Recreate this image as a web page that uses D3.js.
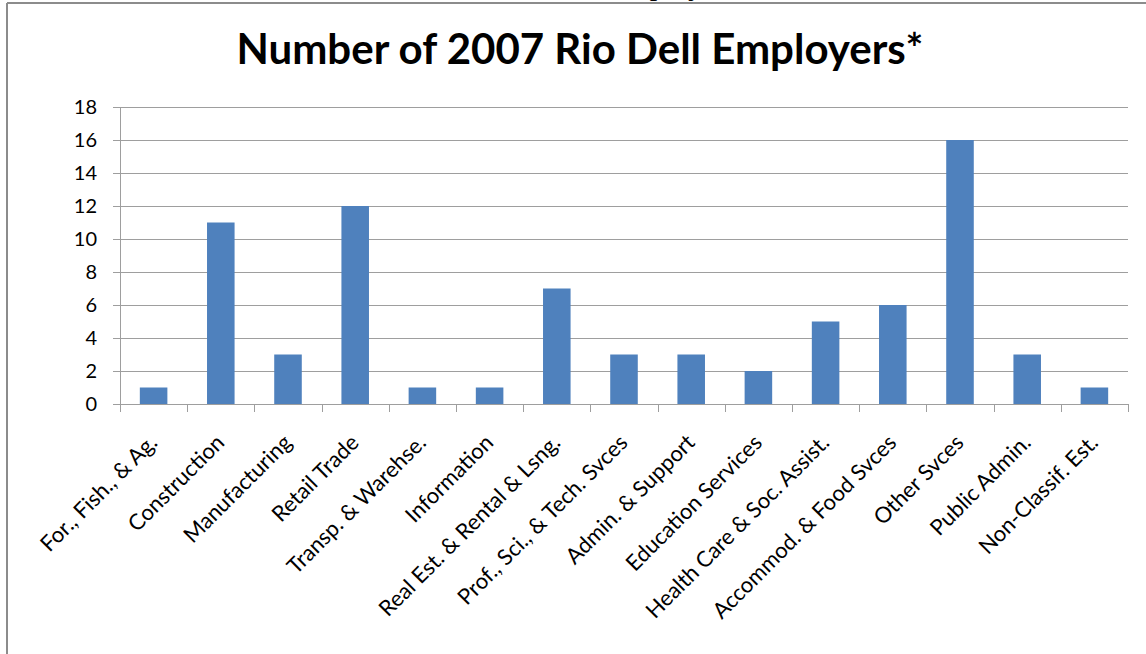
<!DOCTYPE html>
<html>
<head>
<meta charset="utf-8">
<script src="https://cdn.jsdelivr.net/npm/d3@7"></script>
<style>
  body { margin:0; background:#fff; }
  text { font-family: Lato, "Open Sans", sans-serif; fill:#000; }
</style>
</head>
<body>
<div id="chart"></div>
<script>
// values
const categories = ["For., Fish., & Ag.", "Construction", "Manufacturing", "Retail Trade",
  "Transp. & Warehse.", "Information", "Real Est. & Rental & Lsng.", "Prof., Sci., & Tech. Svces",
  "Admin. & Support", "Education Services", "Health Care & Soc. Assist.", "Accommod. & Food Svces",
  "Other Svces", "Public Admin.", "Non-Classif. Est."];
const employers = [1, 11, 3, 12, 1, 1, 7, 3, 3, 2, 5, 6, 16, 3, 1];
const yTicks = [0, 2, 4, 6, 8, 10, 12, 14, 16, 18];

const W = 1146, H = 654;
const m = { top:107, right:18, bottom:250, left:120 };
const iw = W - m.left - m.right, ih = 404 - m.top;

const svg = d3.select("#chart").append("svg").attr("width", W).attr("height", H);

// bits of the page around the chart (heading above is cut off by the crop)
svg.append("text").attr("x", 608).attr("y", -5)
  .style("font-family", "'Liberation Serif', serif").style("font-size", "30px")
  .text("Employers");
svg.append("line").attr("x1", 7).attr("x2", W).attr("y1", 3).attr("y2", 3)
  .attr("stroke", "#8c8c8c").attr("stroke-width", 2);
svg.append("line").attr("x1", 7).attr("x2", 7).attr("y1", 3).attr("y2", H)
  .attr("stroke", "#8c8c8c").attr("stroke-width", 2);

svg.append("text").attr("x", 580).attr("y", 64).attr("text-anchor", "middle")
  .style("font-size", "42px").style("font-weight", "bold")
  .text("Number of 2007 Rio Dell Employers*");

const g = svg.append("g").attr("transform", `translate(${m.left},${m.top})`);

const x = d3.scaleBand().domain(categories).range([0, iw]).paddingInner(0.59).paddingOuter(0.295);
const y = d3.scaleLinear().domain([0, 18]).range([ih, 0]);

// gridlines
g.selectAll("line.grid").data(yTicks.slice(1)).enter().append("line")
  .attr("class", "grid")
  .attr("x1", 0).attr("x2", iw)
  .attr("y1", d => y(d) + 0.5).attr("y2", d => y(d) + 0.5)
  .attr("stroke", "#9e9e9e");

const gy = g.append("g").call(d3.axisLeft(y).tickValues(yTicks).tickSize(7).tickPadding(16));
gy.select(".domain").remove();
gy.selectAll("line").attr("stroke", "#9e9e9e");
gy.selectAll("text").style("font-size", "20px").style("font-family", "Lato, sans-serif");
g.append("line").attr("x1", 0.5).attr("x2", 0.5).attr("y1", 0).attr("y2", ih + 8).attr("stroke", "#9e9e9e");

// bars
g.selectAll("rect").data(employers).enter().append("rect")
  .attr("x", (d, i) => x(categories[i]))
  .attr("width", x.bandwidth())
  .attr("y", d => y(d))
  .attr("height", d => ih - y(d))
  .attr("fill", "#4f81bd");

// x axis baseline and boundary ticks
g.append("line").attr("x1", 0).attr("x2", iw).attr("y1", ih + 0.5).attr("y2", ih + 0.5).attr("stroke", "#9e9e9e");
g.selectAll("line.xt").data(d3.range(categories.length + 1)).enter().append("line")
  .attr("class", "xt")
  .attr("x1", i => Math.round(i * x.step()) + 0.5).attr("x2", i => Math.round(i * x.step()) + 0.5)
  .attr("y1", ih).attr("y2", ih + 8).attr("stroke", "#9e9e9e");

// rotated category labels
g.selectAll("text.cat").data(categories).enter().append("text")
  .attr("class", "cat")
  .attr("text-anchor", "end")
  .attr("transform", d => `translate(${x(d) + x.bandwidth() / 2 + 5},${ih + 40}) rotate(-45)`)
  .style("font-size", "22px")
  .text(d => d);
</script>
</body>
</html>
